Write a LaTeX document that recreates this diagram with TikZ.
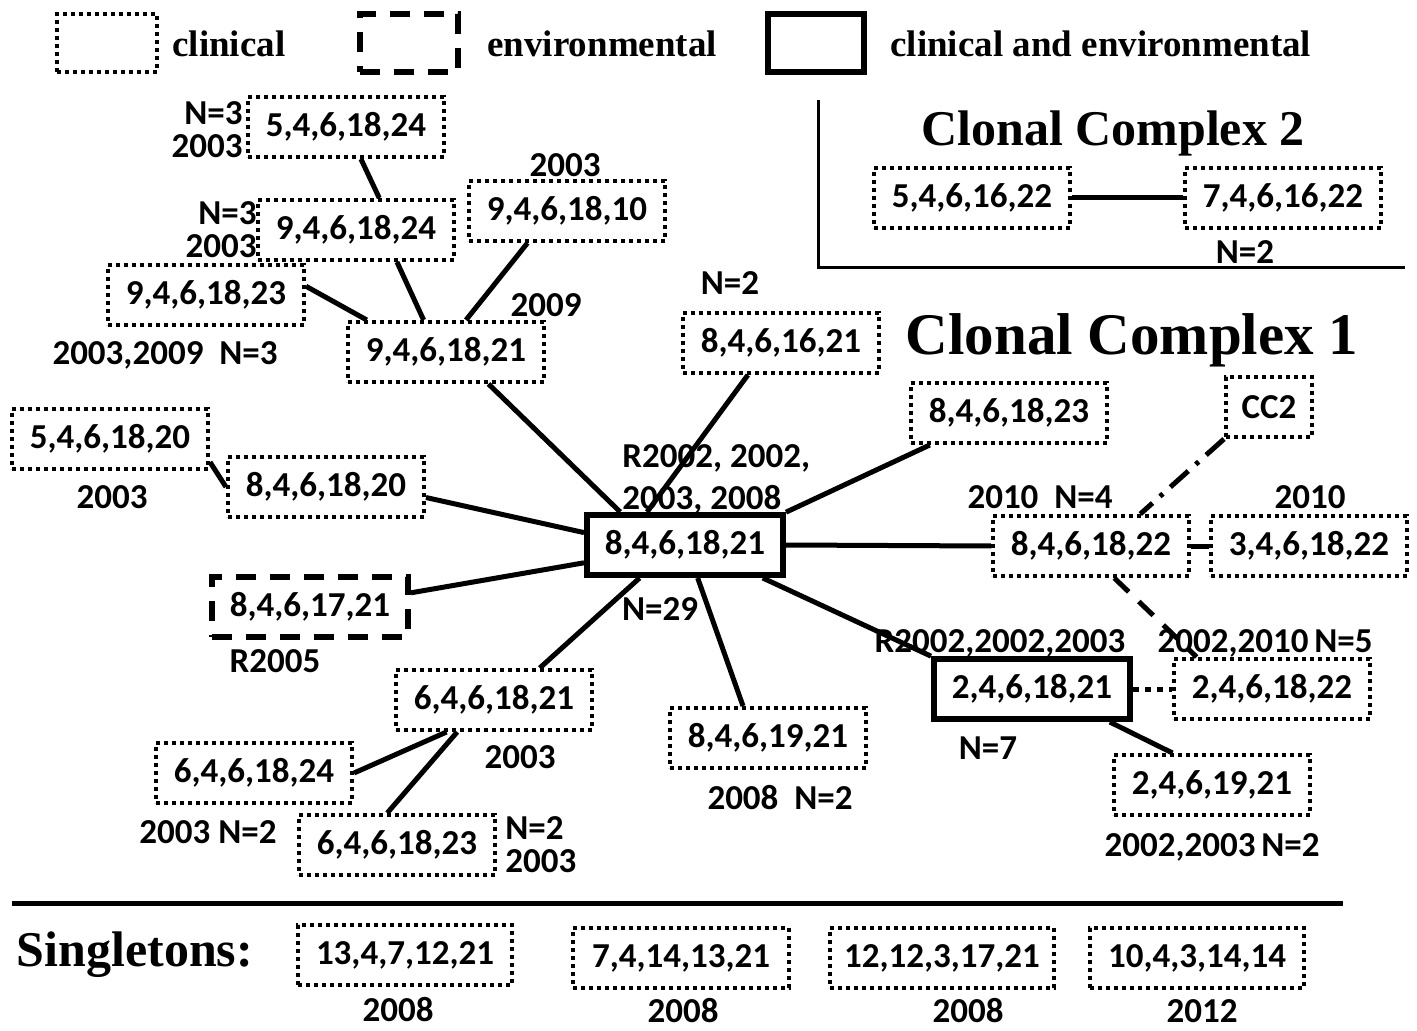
\documentclass[tikz,border=0pt]{standalone}
\usepackage{fontspec}
\setmainfont{Carlito}
\newfontfamily\serifhead{Liberation Serif}
\usetikzlibrary{calc}
\usetikzlibrary{positioning}

\newcommand\lab{\bfseries\fontsize{17.5}{16.5}\selectfont}
\newcommand\legfont{\serifhead\bfseries\fontsize{18.5}{20}\selectfont}

\tikzset{
  clin/.style={draw, line width=2pt, dash pattern=on 2pt off 2pt,
    minimum width=98pt, minimum height=30pt, inner sep=0pt, font=\lab},
  envi/.style={clin, dash pattern=on 10pt off 7pt, line width=3pt},
  both/.style={clin, solid, line width=3pt},
  link/.style={line width=2.5pt},
  info/.style={font=\lab, inner sep=0pt},
}

\begin{document}
\begin{tikzpicture}[x=0.5pt, y=-0.5pt]
  \useasboundingbox (0,0) rectangle (1417,1031);

  % legend
  \node (L1) [clin, minimum width=50pt, minimum height=29pt] at (107,43) {};
  \node [anchor=west, font=\legfont, inner sep=0pt] at (172,44) {clinical};
  \node (L2) [envi, minimum width=49pt, minimum height=29pt] at (409,43) {};
  \node [anchor=west, font=\legfont, inner sep=0pt] at (487,44) {environmental};
  \node (L3) [both, minimum width=48pt, minimum height=29pt] at (816,43) {};
  \node [anchor=west, font=\legfont, inner sep=0pt] at (890,44)
    {clinical and environmental};

  % clonal complex 2
  \draw [line width=1.5pt] (818,100) -- (818,268) -- (1405,268);
  \node [font=\serifhead\bfseries\fontsize{25}{25}\selectfont] at (1113,133)
    {Clonal Complex 2};
  \node (P1) [clin] at (972,198) {5,4,6,16,22};
  \node (P2) [clin] at (1283,198) {7,4,6,16,22};
  \node [info] at (1245,252) {N=2};
  \draw [link] (P1) -- (P2);

  % clonal complex 1
  \node [font=\serifhead\bfseries\fontsize{29.5}{29.5}\selectfont] at (1132,340)
    {Clonal Complex 1};

  \node (C) [both] at (685,545) {8,4,6,18,21};
  \node [info, anchor=west, align=left, font=\lab\fontsize{17.5}{21}\selectfont]
    at (622,479) {R2002, 2002,\\2003, 2008};
  \node [info] at (660,609) {N=29};

  \node (A1) [clin] at (346,127) {5,4,6,18,24};
  \node [info, anchor=east, align=right] at (243,130) {N=3\\2003};
  \node (A2) [clin] at (356,230) {9,4,6,18,24};
  \node [info, anchor=east, align=right] at (257,230) {N=3\\2003};
  \node (A3) [clin] at (567,211) {9,4,6,18,10};
  \node [info] at (565,165) {2003};
  \node (A4) [clin] at (206,295) {9,4,6,18,23};
  \node [info] at (165,355) {2003,2009~~N=3};
  \node (A5) [clin] at (446,352) {9,4,6,18,21};
  \node [info] at (546,305) {2009};

  \node (B1) [clin] at (781,343) {8,4,6,16,21};
  \node [info] at (730,283) {N=2};
  \node (B2) [clin] at (1009,413) {8,4,6,18,23};
  \node (CC) [clin, minimum width=43pt] at (1269,407) {CC2};
  \node (B3) [clin] at (1091,546) {8,4,6,18,22};
  \node [info] at (1040,497) {2010~~N=4};
  \node (B4) [clin] at (1309,546) {3,4,6,18,22};
  \node [info] at (1310,497) {2010};

  \node (D1) [both] at (1032,689) {2,4,6,18,21};
  \node [info] at (1000,643) {R2002,2002,2003};
  \node [info] at (988,748) {N=7};
  \node (D2) [clin] at (1272,689) {2,4,6,18,22};
  \node [info] at (1265,643) {2002,2010\,N=5};
  \node (D3) [clin] at (1212,785) {2,4,6,19,21};
  \node [info] at (1212,847) {2002,2003\,N=2};

  \node (E1) [clin] at (326,487) {8,4,6,18,20};
  \node (E2) [clin] at (110,439) {5,4,6,18,20};
  \node [info] at (112,497) {2003};
  \node (E3) [envi] at (310,607) {8,4,6,17,21};
  \node [info] at (275,661) {R2005};

  \node (F1) [clin] at (494,700) {6,4,6,18,21};
  \node [info] at (520,757) {2003};
  \node (F2) [clin] at (254,773) {6,4,6,18,24};
  \node [info] at (208,832) {2003~N=2};
  \node (F3) [clin] at (397,845) {6,4,6,18,23};
  \node [info, anchor=west, align=left] at (505,845) {N=2\\2003};

  \node (G1) [clin] at (768,738) {8,4,6,19,21};
  \node [info] at (780,798) {2008~~N=2};

  \begin{scope}[link]
    \draw (A1.-65) -- (A2.54);
    \draw (A2.-38) -- (A5.125);
    \draw (A3.-141) -- (A5.58);
    \draw (A4.5) -- (A5.158);
    \draw (A5.-37) -- (C.153);
    \draw (B1.-136) -- (C.139);
    \draw (B2.-158) -- (C.18);
    \draw (C.east) -- (B3.west);
    \draw (B3.east) -- (B4.west);
    \draw [dash pattern=on 12pt off 5pt on 2pt off 5pt] (CC.south west) -- (B3.33);
    \draw [dash pattern=on 10pt off 7pt] (B3.-54) -- (D2.157);
    \draw (C.-23) -- (D1.162);
    \draw [dash pattern=on 3pt off 3pt] (D1.east) -- (D2.west);
    \draw (D1.-23) -- (D3.141);
    \draw (C.-69) -- (G1.128);
    \draw (C.-144) -- (F1.35);
    \draw (C.-170) -- (E3.8);
    \draw (C.173) -- (E1.-6);
    \draw (E2.-13) -- (E1.west);
    \draw (F1.-146) -- (F2.east);
    \draw (F1.-139) -- (F3.107);
  \end{scope}

  % singletons
  \draw [line width=2.5pt] (12,903) -- (1343,903);
  \node [font=\serifhead\bfseries\fontsize{25}{25}\selectfont] at (135,955)
    {Singletons:};
  \node (S1) [clin, minimum width=107pt] at (405,955) {13,4,7,12,21};
  \node [info] at (398,1010) {2008};
  \node (S2) [clin, minimum width=108pt] at (681,958) {7,4,14,13,21};
  \node [info] at (683,1011) {2008};
  \node (S3) [clin, minimum width=112pt] at (942,958) {12,12,3,17,21};
  \node [info] at (968,1011) {2008};
  \node (S4) [clin, minimum width=107pt] at (1197,958) {10,4,3,14,14};
  \node [info] at (1202,1011) {2012};
\end{tikzpicture}
\end{document}
